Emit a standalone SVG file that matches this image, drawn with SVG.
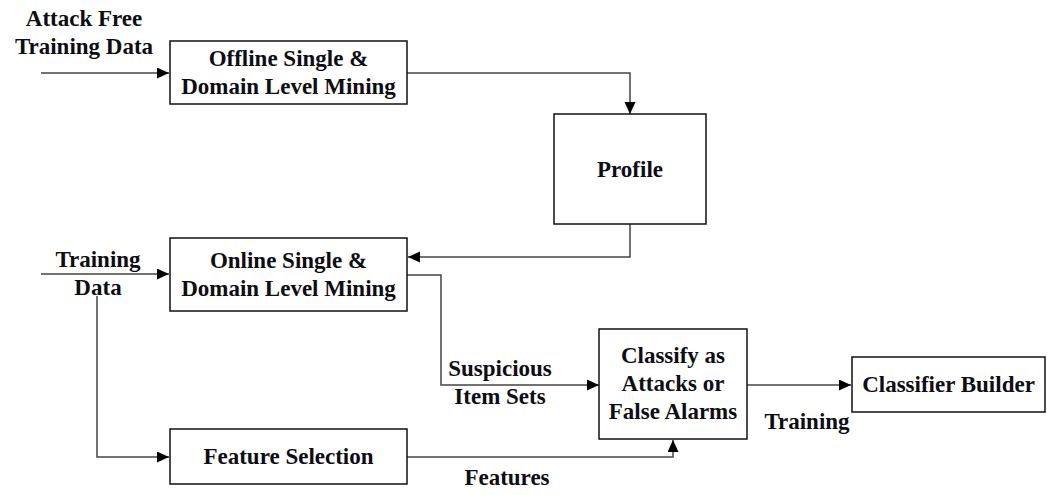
<svg xmlns="http://www.w3.org/2000/svg" width="1047" height="495" viewBox="0 0 1047 495">
  <defs>
    <marker id="arrow" markerUnits="userSpaceOnUse" markerWidth="13" markerHeight="12" refX="12" refY="5.5" orient="auto">
      <path d="M0,0 L12,5.5 L0,11 Z" fill="#000"/>
    </marker>
    <style>
      .box { fill: #fff; stroke: #111; stroke-width: 1.5; }
      .wire { fill: none; stroke: #444; stroke-width: 1.5; }
      .arr { marker-end: url(#arrow); }
      text { font-family: "Liberation Serif", "Times New Roman", serif; font-weight: bold; font-size: 23px; fill: #0d0d14; text-anchor: middle; }
    </style>
  </defs>
  <rect width="1047" height="495" fill="#fff"/>

  <!-- connectors -->
  <g id="connectors">
    <path class="wire arr" d="M41,73 H169"/>
    <path class="wire arr" d="M407,73 H630 V114"/>
    <path class="wire arr" d="M630,224 V257 H408"/>
    <path class="wire arr" d="M41,274 H169"/>
    <path class="wire arr" d="M97,296 V457 H169"/>
    <path class="wire arr" d="M407,275 H441 V385 H599"/>
    <path class="wire arr" d="M747,385 H851"/>
    <path class="wire arr" d="M407,457 H673 V440"/>
  </g>

  <!-- edge labels -->
  <g id="labels">
    <text x="84" y="26">Attack Free</text>
    <text x="84" y="54">Training Data</text>
    <text x="98" y="267">Training</text>
    <text x="98" y="295">Data</text>
    <text x="500" y="376">Suspicious</text>
    <text x="500" y="404">Item Sets</text>
    <text x="807" y="429">Training</text>
    <text x="507" y="485">Features</text>
  </g>

  <g id="offline-mining">
    <rect class="box" x="170" y="41" width="237" height="63"/>
    <text x="288.5" y="66">Offline Single &amp;</text>
    <text x="288.5" y="94">Domain Level Mining</text>
  </g>

  <g id="profile">
    <rect class="box" x="554" y="114" width="152" height="110"/>
    <text x="630" y="177">Profile</text>
  </g>

  <g id="online-mining">
    <rect class="box" x="170" y="238" width="237" height="73"/>
    <text x="288.5" y="268">Online Single &amp;</text>
    <text x="288.5" y="296">Domain Level Mining</text>
  </g>

  <g id="classify">
    <rect class="box" x="599" y="329" width="148" height="110"/>
    <text x="673" y="363">Classify as</text>
    <text x="673" y="391">Attacks or</text>
    <text x="673" y="419">False Alarms</text>
  </g>

  <g id="classifier-builder">
    <rect class="box" x="852" y="357" width="193" height="55"/>
    <text x="948.5" y="392">Classifier Builder</text>
  </g>

  <g id="feature-selection">
    <rect class="box" x="170" y="429" width="237" height="55"/>
    <text x="288.5" y="464">Feature Selection</text>
  </g>
</svg>
